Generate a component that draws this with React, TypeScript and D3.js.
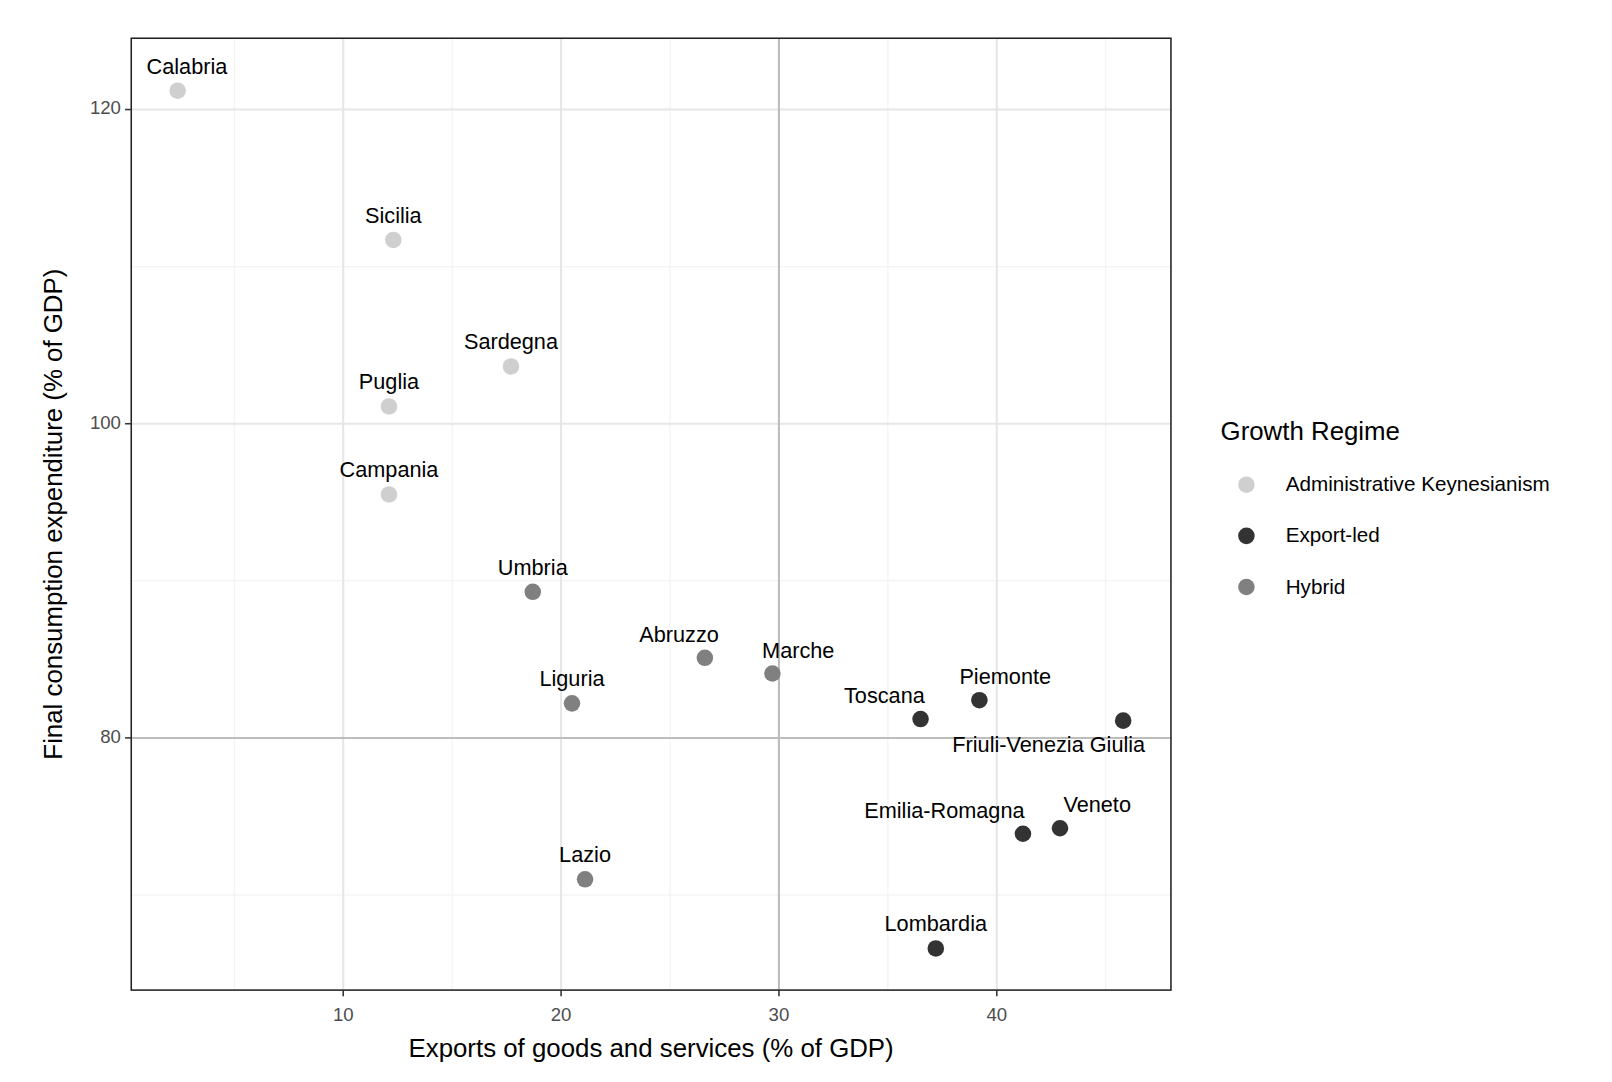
import * as d3 from "d3";
import { useEffect, useRef } from "react";

const regions = ["Calabria", "Sicilia", "Sardegna", "Puglia", "Campania", "Umbria", "Abruzzo", "Marche", "Liguria", "Toscana", "Piemonte", "Friuli-Venezia Giulia", "Emilia-Romagna", "Veneto", "Lazio", "Lombardia"];
const exportsPct = [2.4, 12.3, 17.7, 12.1, 12.1, 18.7, 26.6, 29.7, 20.5, 36.5, 39.2, 45.8, 41.2, 42.9, 21.1, 37.2];
const consumptionPct = [121.2, 111.7, 103.65, 101.1, 95.5, 89.3, 85.1, 84.1, 82.2, 81.2, 82.4, 81.1, 73.9, 74.25, 71.0, 66.6];
const regime = ["Administrative Keynesianism", "Administrative Keynesianism", "Administrative Keynesianism", "Administrative Keynesianism", "Administrative Keynesianism", "Hybrid", "Hybrid", "Hybrid", "Hybrid", "Export-led", "Export-led", "Export-led", "Export-led", "Export-led", "Hybrid", "Export-led"];
const regimes = ["Administrative Keynesianism", "Export-led", "Hybrid"];
const regimeColors = ["#cfcfcf", "#333333", "#808080"];
const xTicks = [10, 20, 30, 40];
const yTicks = [80, 100, 120];

// label nudges in px (dx, dy)
const labelNudge: [number, number][] = [
  [9, -22], [0, -22], [0, -22], [0, -22], [0, -22], [0, -22], [-25, -21], [25, -21], [0, -22],
  [-35, -21], [25, -21], [-72, 25], [-76, -21], [36, -21], [0, -22], [0, -22],
];

export default function App() {
  const ref = useRef<SVGSVGElement>(null);
  useEffect(() => {
    document.body.style.margin = "0";
    const root = d3.select(ref.current);
    root.selectAll("*").remove();
    const svg = root.append("g").attr("transform", "scale(1.0335)");
    const L = 127, R = 1133, T = 37, B = 958;
    const x = d3.scaleLinear().domain([0, 10]).range([121.3, 332.1]);
    const y = d3.scaleLinear().domain([80, 100]).range([714, 410]);
    const color = d3.scaleOrdinal<string>().domain(regimes).range(regimeColors);
    const font = "Arial, 'Liberation Sans', sans-serif";

    svg.append("rect").attr("x", L).attr("y", T).attr("width", R - L).attr("height", B - T).attr("fill", "white");
    const minorX = [5, 15, 25, 35, 45];
    const minorY = [70, 90, 110];
    const g = svg.append("g");
    minorX.forEach(v => g.append("line").attr("x1", x(v)).attr("x2", x(v)).attr("y1", T).attr("y2", B).attr("stroke", "#f0f0f0").attr("stroke-width", 1));
    minorY.forEach(v => g.append("line").attr("y1", y(v)).attr("y2", y(v)).attr("x1", L).attr("x2", R).attr("stroke", "#f0f0f0").attr("stroke-width", 1));
    xTicks.forEach(v => g.append("line").attr("x1", x(v)).attr("x2", x(v)).attr("y1", T).attr("y2", B).attr("stroke", "#e6e6e6").attr("stroke-width", 2));
    yTicks.forEach(v => g.append("line").attr("y1", y(v)).attr("y2", y(v)).attr("x1", L).attr("x2", R).attr("stroke", "#e6e6e6").attr("stroke-width", 2));
    g.append("line").attr("x1", x(30)).attr("x2", x(30)).attr("y1", T).attr("y2", B).attr("stroke", "#bdbdbd").attr("stroke-width", 2);
    g.append("line").attr("y1", y(80)).attr("y2", y(80)).attr("x1", L).attr("x2", R).attr("stroke", "#bdbdbd").attr("stroke-width", 2);

    regions.forEach((r, i) => {
      svg.append("circle").attr("cx", x(exportsPct[i])).attr("cy", y(consumptionPct[i])).attr("r", 8).attr("fill", color(regime[i]));
      svg.append("text").attr("x", x(exportsPct[i]) + labelNudge[i][0]).attr("y", y(consumptionPct[i]) + labelNudge[i][1])
        .attr("text-anchor", "middle").attr("dominant-baseline", "middle").attr("font-family", font).attr("font-size", 21).attr("fill", "black").text(r);
    });

    svg.append("rect").attr("x", L).attr("y", T).attr("width", R - L).attr("height", B - T).attr("fill", "none").attr("stroke", "#222").attr("stroke-width", 1.5);

    xTicks.forEach(v => {
      svg.append("line").attr("x1", x(v)).attr("x2", x(v)).attr("y1", B).attr("y2", B + 6).attr("stroke", "#333").attr("stroke-width", 1.5);
      svg.append("text").attr("x", x(v)).attr("y", B + 25).attr("text-anchor", "middle").attr("dominant-baseline", "middle").attr("font-family", font).attr("font-size", 18).attr("fill", "#4d4d4d").text(v);
    });
    yTicks.forEach(v => {
      svg.append("line").attr("x1", L - 6).attr("x2", L).attr("y1", y(v)).attr("y2", y(v)).attr("stroke", "#333").attr("stroke-width", 1.5);
      svg.append("text").attr("x", L - 10).attr("y", y(v)).attr("text-anchor", "end").attr("dominant-baseline", "middle").attr("font-family", font).attr("font-size", 18).attr("fill", "#4d4d4d").text(v);
    });

    svg.append("text").attr("x", (L + R) / 2).attr("y", 1016).attr("text-anchor", "middle").attr("dominant-baseline", "middle").attr("font-family", font).attr("font-size", 25).text("Exports of goods and services (% of GDP)");
    svg.append("text").attr("transform", `translate(53,${(T + B) / 2}) rotate(-90)`).attr("text-anchor", "middle").attr("dominant-baseline", "middle").attr("font-family", font).attr("font-size", 25).text("Final consumption expenditure (% of GDP)");

    svg.append("text").attr("x", 1181).attr("y", 419).attr("dominant-baseline", "middle").attr("font-family", font).attr("font-size", 25).text("Growth Regime");
    regimes.forEach((r, i) => {
      const cy = 469 + i * 49.5;
      svg.append("circle").attr("cx", 1206).attr("cy", cy).attr("r", 8).attr("fill", color(r));
      svg.append("text").attr("x", 1244).attr("y", cy + 1).attr("dominant-baseline", "middle").attr("font-family", font).attr("font-size", 20).text(r);
    });
  }, []);
  return <svg ref={ref} width={1612} height={1082} style={{ display: "block" }}></svg>;
}
